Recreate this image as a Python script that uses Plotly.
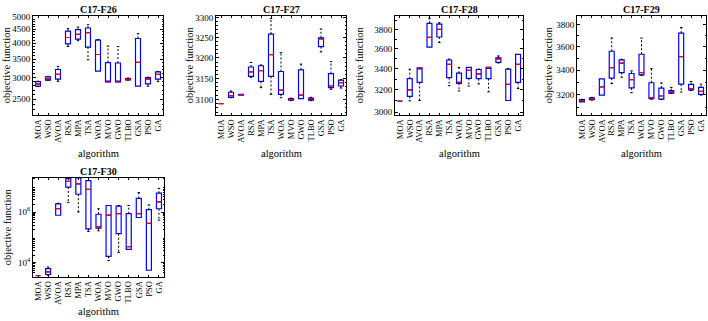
import plotly.graph_objects as go

W, H = 708, 321
FONT = "Liberation Serif"

ALGS = ["MOA", "WSO", "AVOA", "RSA", "MPA", "TSA", "WOA", "MVO", "GWO", "TLBO", "GSA", "PSO", "GA"]

# C17-F26
F26_lo  = [2780, 2935, 2906, 3893, 4089, 3482, 3167, 2890, 2890, 2935, 2790, 2790, 2900]
F26_q1  = [2790, 2937, 2961, 3978, 4145, 3874, 3167, 2890, 2890, 2945, 2790, 2845, 2961]
F26_med = [2845, 2975, 3083, 4200, 4314, 4371, 3641, 2890, 2890, 2960, 3410, 2960, 3083]
F26_q3  = [2899, 3017, 3210, 4430, 4490, 4550, 4110, 3404, 3390, 2977, 4166, 3001, 3149]
F26_hi  = [2910, 3030, 3297, 4524, 4585, 4675, 4130, 3907, 3890, 2990, 4337, 3010, 3160]

# C17-F27
F27_lo  = [3090, 3104, 3110, 3153, 3128, 3112, 3104, 3097, 3102, 3097, 3215, 3124, 3127]
F27_q1  = [3090, 3105, 3110, 3155, 3143, 3155, 3112, 3098, 3102, 3098, 3228, 3128, 3132]
F27_med = [3090, 3109, 3111, 3166, 3169, 3208, 3122, 3100, 3110, 3101, 3247, 3132, 3140]
F27_q3  = [3090, 3117, 3112, 3178, 3181, 3259, 3167, 3102, 3171, 3103, 3250, 3162, 3146]
F27_hi  = [3090, 3120, 3112, 3189, 3183, 3298, 3213, 3103, 3185, 3105, 3272, 3191, 3147]

# C17-F28
F28_lo  = [3097, 3100, 3103, 3618, 3666, 3238, 3189, 3235, 3254, 3181, 3456, 3103, 3211]
F28_q1  = [3097, 3139, 3268, 3618, 3724, 3313, 3260, 3307, 3304, 3304, 3462, 3103, 3268]
F28_med = [3097, 3199, 3408, 3719, 3807, 3443, 3270, 3384, 3350, 3412, 3497, 3250, 3443]
F28_q3  = [3097, 3304, 3408, 3873, 3865, 3486, 3356, 3412, 3392, 3412, 3508, 3396, 3542]
F28_hi  = [3097, 3394, 3408, 3930, 3880, 3495, 3412, 3412, 3396, 3412, 3527, 3400, 3542]

# C17-F29
F29_lo  = [3142, 3157, 3196, 3288, 3340, 3215, 3355, 3164, 3162, 3209, 3220, 3232, 3196]
F29_q1  = [3142, 3160, 3196, 3333, 3379, 3253, 3360, 3169, 3164, 3212, 3283, 3237, 3201]
F29_med = [3151, 3167, 3261, 3420, 3458, 3321, 3379, 3174, 3189, 3220, 3515, 3244, 3225]
F29_q3  = [3160, 3175, 3326, 3561, 3486, 3371, 3535, 3295, 3252, 3232, 3724, 3281, 3257]
F29_hi  = [3163, 3178, 3326, 3679, 3491, 3393, 3679, 3411, 3293, 3257, 3777, 3305, 3283]

# C17-F30
F30_lo  = [3100, 3280, 7.46e5, 2.41e6, 1.0e6, 1.72e5, 1.82e5, 1.23e4, 2.56e4, 3.4e4, 6.07e5, 5.1e3, 4.8e5]
F30_q1  = [3100, 3475, 7.46e5, 9.6e6, 5.0e6, 2.18e5, 2.31e5, 1.8e4, 1.4e5, 3.4e4, 6.07e5, 5.1e3, 1.34e6]
F30_med = [3100, 4400, 1.34e6, 1.62e7, 1.28e7, 7.8e6, 2.67e5, 7.5e5, 8.6e5, 4.3e4, 8.6e5, 3.58e5, 2.48e6]
F30_q3  = [3100, 5900, 2.08e6, 2.05e7, 2.18e7, 1.72e7, 8.15e5, 1.8e6, 1.7e6, 8.6e5, 3.43e6, 1.23e6, 5.48e6]
F30_hi  = [3100, 6820, 2.21e6, 2.75e7, 2.5e7, 1.72e7, 1.34e6, 1.8e6, 1.8e6, 1.8e6, 5.8e6, 1.9e6, 8.5e6]

# tick labels
F26_ticks = [2500, 3000, 3500, 4000, 4500, 5000]
F27_ticks = [3100, 3150, 3200, 3250, 3300]
F28_ticks = [3000, 3200, 3400, 3600, 3800]
F29_ticks = [3200, 3400, 3600, 3800]
F30_ticks = [1e4, 1e6]
F30_ticktext = ["10<sup>4</sup>", "10<sup>6</sup>"]


def px(x):
    return x / W


def py(y):
    return 1 - y / H


panels = [
    dict(title="C17-F26", lo=F26_lo, q1=F26_q1, med=F26_med, q3=F26_q3, hi=F26_hi,
         yr=[3.341, 3.7025], tv=F26_ticks, tt=[str(v) for v in F26_ticks],
         minor=list(range(2200, 5001, 100)),
         x0=33, x1=163, y0=12, y1=113, yt=6, xt=152),
    dict(title="C17-F27", lo=F27_lo, q1=F27_q1, med=F27_med, q3=F27_q3, hi=F27_hi,
         yr=[3.4862, 3.5192], tv=F27_ticks, tt=[str(v) for v in F27_ticks],
         minor=list(range(3070, 3301, 10)),
         x0=216, x1=346, y0=12, y1=113, yt=189, xt=152),
    dict(title="C17-F28", lo=F28_lo, q1=F28_q1, med=F28_med, q3=F28_q3, hi=F28_hi,
         yr=[3.4738, 3.5975], tv=F28_ticks, tt=[str(v) for v in F28_ticks],
         minor=list(range(3000, 3951, 100)),
         x0=395, x1=523, y0=12, y1=113, yt=359, xt=152),
    dict(title="C17-F29", lo=F29_lo, q1=F29_q1, med=F29_med, q3=F29_q3, hi=F29_hi,
         yr=[3.4834, 3.5896], tv=F29_ticks, tt=[str(v) for v in F29_ticks],
         minor=list(range(3100, 3881, 100)),
         x0=577, x1=706, y0=12, y1=113, yt=548, xt=152),
    dict(title="C17-F30", lo=F30_lo, q1=F30_q1, med=F30_med, q3=F30_q3, hi=F30_hi,
         yr=[3.45, 7.35], tv=F30_ticks, tt=F30_ticktext,
         minor=[m * 10 ** e for e in range(3, 8) for m in range(2, 10)],
         x0=33, x1=164, y0=177, y1=278, yt=7, xt=313),
]

fig = go.Figure()
xs = list(range(1, len(ALGS) + 1))
annotations = []
layout_axes = {}
BW = 0.5

for k, p in enumerate(panels, start=1):
    xa = "x" if k == 1 else f"x{k}"
    ya = "y" if k == 1 else f"y{k}"
    # boxes
    fig.add_trace(go.Box(
        x=xs, q1=p["q1"], median=p["med"], q3=p["q3"],
        lowerfence=p["q1"], upperfence=p["q3"],
        width=BW, line=dict(color="#0000ff", width=1.2),
        fillcolor="rgba(0,0,0,0)", boxpoints=False,
        xaxis=xa, yaxis=ya, showlegend=False, hoverinfo="skip"))
    # whiskers and caps
    wx, wy, cx, cy = [], [], [], []
    for i, x in enumerate(xs):
        if p["hi"][i] > p["q3"][i]:
            wx += [x, x, None]
            wy += [p["q3"][i], p["hi"][i], None]
            cx += [x - BW / 4, x + BW / 4, None]
            cy += [p["hi"][i], p["hi"][i], None]
        if p["lo"][i] < p["q1"][i]:
            wx += [x, x, None]
            wy += [p["q1"][i], p["lo"][i], None]
            cx += [x - BW / 4, x + BW / 4, None]
            cy += [p["lo"][i], p["lo"][i], None]
    fig.add_trace(go.Scatter(x=wx, y=wy, mode="lines",
                             line=dict(color="black", width=1, dash="2px,2px"),
                             xaxis=xa, yaxis=ya, showlegend=False, hoverinfo="skip"))
    fig.add_trace(go.Scatter(x=cx, y=cy, mode="lines",
                             line=dict(color="black", width=1),
                             xaxis=xa, yaxis=ya, showlegend=False, hoverinfo="skip"))
    # medians
    mx, my = [], []
    for i, x in enumerate(xs):
        mx += [x - BW / 2, x + BW / 2, None]
        my += [p["med"][i], p["med"][i], None]
    fig.add_trace(go.Scatter(x=mx, y=my, mode="lines",
                             line=dict(color="#ff0000", width=1.2),
                             xaxis=xa, yaxis=ya, showlegend=False, hoverinfo="skip"))

    xkey = "xaxis" if k == 1 else f"xaxis{k}"
    ykey = "yaxis" if k == 1 else f"yaxis{k}"
    layout_axes[xkey] = dict(
        domain=[px(p["x0"]), px(p["x1"])], anchor=ya, range=[0.5, 13.5],
        tickmode="array", tickvals=xs, ticktext=ALGS, tickangle=-90,
        ticks="inside", ticklen=2, tickcolor="black", mirror="ticks",
        showline=True, linecolor="black", linewidth=1,
        showgrid=False, zeroline=False,
        tickfont=dict(family=FONT, size=8.5, color="black"))
    layout_axes[ykey] = dict(
        domain=[py(p["y1"]), py(p["y0"])], anchor=xa, type="log", range=p["yr"],
        tickmode="array", tickvals=p["tv"], ticktext=p["tt"],
        ticks="inside", ticklen=3, tickcolor="black", mirror="ticks",
        minor=dict(tickmode="array", tickvals=p["minor"], ticks="inside",
                   ticklen=1.5, tickcolor="black", showgrid=False),
        showline=True, linecolor="black", linewidth=1,
        showgrid=False, zeroline=False,
        tickfont=dict(family=FONT, size=9, color="black"))

    cxp = (p["x0"] + p["x1"]) / 2
    annotations.append(dict(text=f"<b>{p['title']}</b>", x=px(cxp), y=py(p["y0"] - 6),
                            xref="paper", yref="paper", showarrow=False,
                            xanchor="center", yanchor="middle",
                            font=dict(family=FONT, size=10, color="black")))
    annotations.append(dict(text="objective function", x=px(p["yt"]),
                            y=py((p["y0"] + p["y1"]) / 2),
                            xref="paper", yref="paper", showarrow=False, textangle=-90,
                            xanchor="center", yanchor="middle",
                            font=dict(family=FONT, size=10.5, color="black")))
    annotations.append(dict(text="algorithm", x=px(cxp), y=py(p["xt"]),
                            xref="paper", yref="paper", showarrow=False,
                            xanchor="center", yanchor="middle",
                            font=dict(family=FONT, size=10.5, color="black")))

fig.update_layout(
    width=W, height=H, margin=dict(l=0, r=0, t=0, b=0),
    paper_bgcolor="white", plot_bgcolor="white",
    showlegend=False, annotations=annotations, **layout_axes)

fig.write_html("out.html",
               config={"displayModeBar": False},
               post_script="document.body.style.margin='0px';"
                           "document.body.style.overflow='hidden';")
